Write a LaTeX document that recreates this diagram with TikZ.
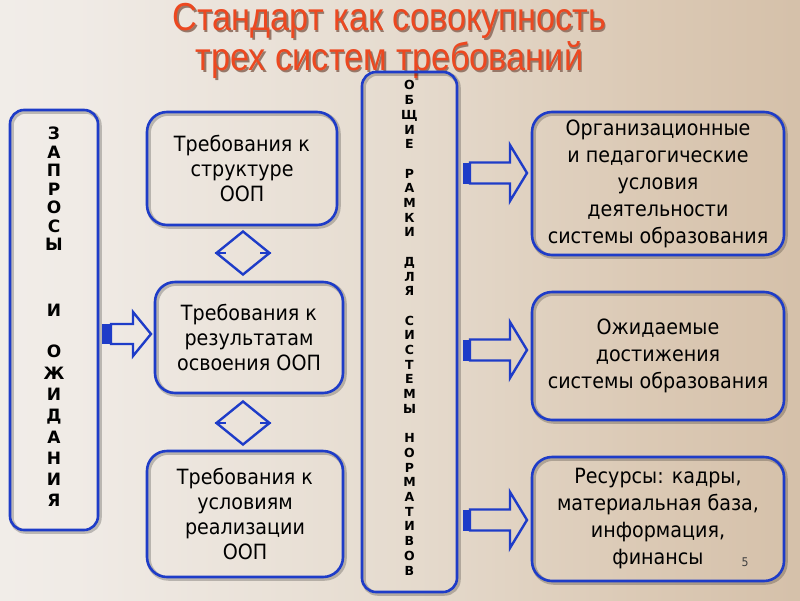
\documentclass[tikz,border=0pt]{standalone}
\usepackage{fontspec}
\usetikzlibrary{shapes.geometric}
\newfontfamily\boxfont[FakeStretch=0.91]{DejaVu Sans}
\newfontfamily\letfont{DejaVu Sans}
\newfontfamily\titlefont[FakeStretch=0.88]{Liberation Sans}
\definecolor{bl}{RGB}{30,60,200}
\definecolor{tred}{RGB}{236,72,32}
\definecolor{tshadow}{RGB}{150,120,105}
\pgfdeclarehorizontalshading{bgsh}{100bp}{rgb(0bp)=(0.98,0.975,0.97); rgb(30bp)=(0.94,0.92,0.90); rgb(50bp)=(0.90,0.86,0.81); rgb(65bp)=(0.86,0.79,0.71); rgb(85bp)=(0.81,0.72,0.62); rgb(96bp)=(0.74,0.63,0.52); rgb(100bp)=(0.68,0.57,0.46)}
\newcommand{\shadowtext}[1]{\makebox[0pt][l]{\hspace{1.5pt}\raisebox{-1.5pt}{\textcolor{tshadow}{#1}}}\textcolor{tred}{#1}}
\tikzset{
  shadowed/.style={preaction={draw=black, draw opacity=0.22, line width=4.5pt, transform canvas={shift={(1.5pt,-1.5pt)}}}},
  box/.style={shadowed, draw=bl, line width=2.6pt, rounded corners=20pt, align=center, inner sep=0pt,
    font=\boxfont\fontsize{21}{25}\selectfont},
  rbox/.style={box, font=\boxfont\fontsize{21}{27}\selectfont},
  tallbox/.style={box, rounded corners=14pt},
  letters/.style={align=center, inner sep=0pt, anchor=north, font=\letfont\bfseries},
  dia/.style={diamond, draw=bl, line width=2.4pt, minimum width=54pt, minimum height=44pt, inner sep=0pt},
  tick/.style={draw=bl, line width=2.2pt},
  barrow/.style={draw=bl, line width=2.4pt, line join=miter},
  btail/.style={fill=bl},
  titletext/.style={anchor=base, inner sep=0pt, align=center, font=\titlefont\fontsize{39}{35}\selectfont}
}
\begin{document}
\begin{tikzpicture}[x=1pt,y=-1pt]
\useasboundingbox (0,0) rectangle (800,600);
\shade[shading=bgsh] (0,0) rectangle (800,600);

% title (one node, two lines; base anchor = last line)
\node[titletext] (title) at (389.5,70.5) {\shadowtext{Стандарт как совокупность}\\\shadowtext{трех систем требований}};

% left tall box
\node[tallbox, minimum width=88pt, minimum height=420pt] (zap) at (54,320) {};
\node[letters, font=\letfont\bfseries\fontsize{17}{18.5}\selectfont] (zapt) at (54,127)
  {З\\А\\П\\Р\\О\\С\\Ы\\[47.5pt]И\\[22.5pt]О\\[2.8pt]Ж\\[2.8pt]И\\[2.8pt]Д\\[2.8pt]А\\[2.8pt]Н\\[2.8pt]И\\[2.8pt]Я};

% middle column boxes
\node[box, minimum width=190pt, minimum height=113pt] (b1) at (242,168.5) {Требования к\\структуре\\ООП};
\node[box, minimum width=188pt, minimum height=111pt] (b2) at (249,337.5) {Требования к\\результатам\\освоения ООП};
\node[box, minimum width=196pt, minimum height=126pt] (b3) at (245,514) {Требования к\\условиям\\реализации\\ООП};

% diamonds
\node[dia] (d1) at (243,253) {};
\draw[tick] (d1.west) -- ++(11,0);
\draw[tick] (d1.east) -- ++(-11,0);
\node[dia] (d2) at (243,423) {};
\draw[tick] (d2.west) -- ++(11,0);
\draw[tick] (d2.east) -- ++(-11,0);

% central tall box
\node[tallbox, minimum width=95pt, minimum height=520pt] (ramki) at (409.5,332) {};
\node[letters, font=\letfont\bfseries\fontsize{12.5}{14.7}\selectfont] (ramkit) at (409.5,80.5)
  {О\\Б\\Щ\\И\\Е\\[14.7pt]Р\\А\\М\\К\\И\\[14.7pt]Д\\Л\\Я\\[14.7pt]С\\И\\С\\Т\\Е\\М\\Ы\\[14.7pt]Н\\О\\Р\\М\\А\\Т\\И\\В\\О\\В};

% right boxes
\node[rbox, minimum width=252pt, minimum height=143pt] (r1) at (658,183.5)
  {Организационные\\и педагогические\\условия\\деятельности\\системы образования};
\node[rbox, minimum width=252pt, minimum height=128pt] (r2) at (658,356)
  {Ожидаемые\\достижения\\системы образования};
\node[rbox, minimum width=252pt, minimum height=124pt] (r3) at (658,519)
  {Ресурсы: кадры,\\материальная база,\\информация,\\финансы};

% left block arrow
\fill[btail] (102,324) rectangle (111,344);
\draw[barrow] (111,324) -- (133,324) -- (133,312) -- (151,334) -- (133,356) -- (133,344) -- (111,344) -- cycle;

% right block arrows
\foreach \c in {173,350,520}{
  \fill[btail] (463,\c-10.5) rectangle (470,\c+10.5);
  \draw[barrow] (470,\c-10.5) -- (510,\c-10.5) -- (510,\c-28) -- (527,\c) -- (510,\c+28) -- (510,\c+10.5) -- (470,\c+10.5) -- cycle;
}

% page number
\node[font=\boxfont\fontsize{12}{12}\selectfont, text=black!75] (pn) at (745,562) {5};
\end{tikzpicture}
\end{document}
